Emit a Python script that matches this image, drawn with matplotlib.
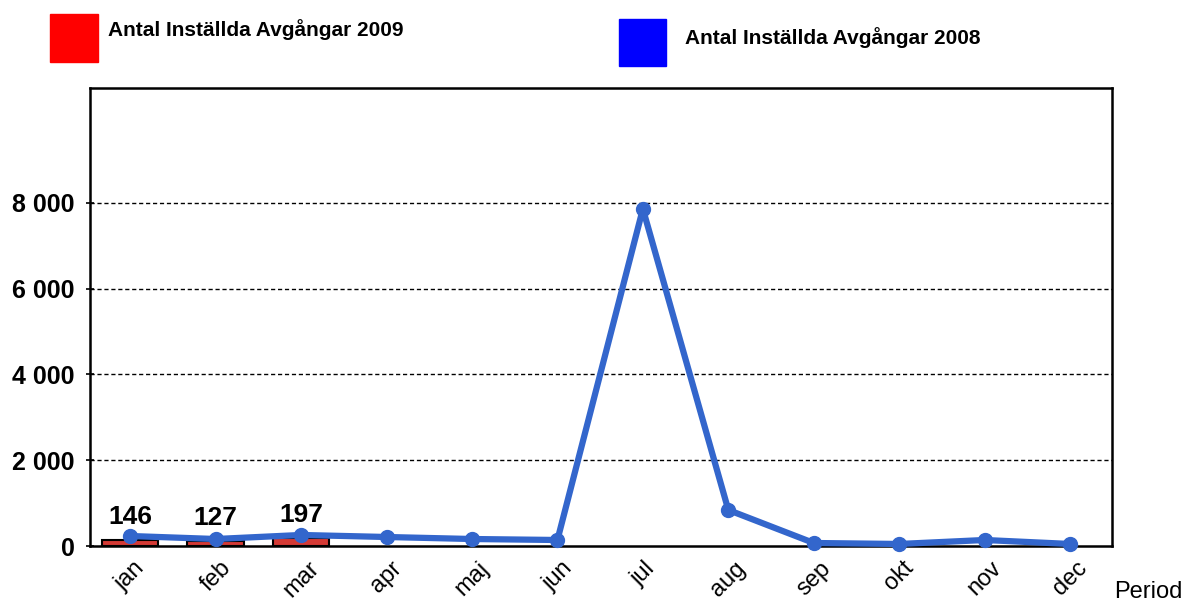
import numpy as np
import matplotlib.pyplot as plt
from matplotlib.patches import Rectangle

plt.rcParams['font.family'] = ['Liberation Sans', 'DejaVu Sans']

months = ['jan', 'feb', 'mar', 'apr', 'maj', 'jun', 'jul', 'aug', 'sep', 'okt', 'nov', 'dec']
avg_2009 = [146, 127, 197]
avg_2008 = [233, 163, 257, 210, 163, 140, 7860, 840, 70, 47, 140, 47]
yticks = [0, 2000, 4000, 6000, 8000]
ytick_labels = ['0', '2 000', '4 000', '6 000', '8 000']

fig = plt.figure(figsize=(11.85, 6.01), dpi=100)
ax = fig.add_axes([90/1185, 1-546/601, 1022/1185, 458/601])

x = np.arange(len(months))
ax.bar(x[:len(avg_2009)], avg_2009, width=0.66, color='#d43a35', edgecolor='black', linewidth=1.5, zorder=2)
ax.plot(x, avg_2008, color='#3366cc', linewidth=4.5, marker='o', markersize=10, zorder=3, clip_on=False)

for i, v in enumerate(avg_2009):
    ax.text(x[i], v + 250, str(v), ha='center', va='bottom', fontsize=19, fontweight='bold')

ax.set_xlim(-0.47, 11.49)
ax.set_ylim(0, 10680)
ax.set_yticks(yticks)
ax.set_yticklabels(ytick_labels, fontsize=18, fontweight='bold')
ax.set_xticks(x)
ax.set_xticklabels(months, rotation=45, fontsize=17)
ax.tick_params(axis='x', length=0, pad=8)
ax.tick_params(axis='y', length=6, direction='inout', width=1.2, pad=8)
for t in ax.get_xticklabels():
    t.set_horizontalalignment('center')
for y in yticks[1:]:
    ax.axhline(y, color='black', linestyle=(0, (3, 2)), linewidth=1, zorder=1)
for s in ax.spines.values():
    s.set_linewidth(1.8)

fig.text(1183/1185, 1-592/601, 'Period', ha='right', va='center', fontsize=17)

fig.patches.append(Rectangle((50/1185, 1-62/601), 48/1185, 48/601, transform=fig.transFigure, color='#ff0000'))
fig.text(108/1185, 1-30/601, 'Antal Inställda Avgångar 2009', fontsize=15, fontweight='bold', va='center')
fig.patches.append(Rectangle((619/1185, 1-66/601), 47/1185, 47/601, transform=fig.transFigure, color='#0000ff'))
fig.text(685/1185, 1-38/601, 'Antal Inställda Avgångar 2008', fontsize=15, fontweight='bold', va='center')

fig.savefig('out.png', dpi=100)
